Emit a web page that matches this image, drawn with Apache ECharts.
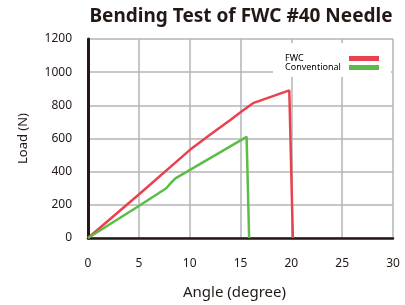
<!DOCTYPE html>
<html>
<head>
<meta charset="utf-8">
<script src="https://cdn.jsdelivr.net/npm/echarts@6/dist/echarts.min.js"></script>
<style>
  html, body { margin: 0; padding: 0; background: #fff; }
  #chart { width: 405px; height: 305px; }
</style>
</head>
<body>
<div id="chart"></div>
<script>
// [angle, load]
const seriesNames = ['FWC', 'Conventional'];
const fwcData = [[0, 0], [5, 262], [10, 530], [12, 622], [14, 712], [15.3, 772], [16.3, 815], [19.8, 890], [20.15, 0]];
const convData = [[0, 0], [5, 193], [7.7, 300], [8.2, 335], [8.6, 360], [15.6, 610], [15.85, 0]];
const colors = ['#e9424f', '#5bbd48'];

const chart = echarts.init(document.getElementById('chart'), null, { renderer: 'canvas' });

const option = {
  backgroundColor: '#fff',
  animation: false,
  title: {
    text: 'Bending Test of FWC #40 Needle',
    left: 236,
    top: 2,
    textAlign: 'center',
    textStyle: { fontFamily: 'Noto Sans', fontWeight: 'bold', fontSize: 19, color: '#231815' }
  },
  legend: {
    data: seriesNames,
    orient: 'vertical',
    right: 14,
    top: 43,
    align: 'right',
    itemWidth: 30,
    itemHeight: 5,
    itemGap: 0,
    padding: [11, 12, 5, 12],
    backgroundColor: '#fff',
    icon: 'rect',
    formatter: '{a|{name}}',
    textStyle: {
      fontFamily: 'Noto Sans', fontSize: 9, color: '#000',
      rich: { a: { width: 59, align: 'left', fontFamily: 'Noto Sans', fontSize: 9, color: '#000' } }
    }
  },
  grid: { left: 88, right: 12, top: 39, bottom: 66 },
  xAxis: {
    type: 'value',
    min: 0, max: 30, interval: 5,
    name: 'Angle (degree)',
    nameLocation: 'middle',
    nameGap: 47,
    nameTextStyle: { fontFamily: 'Noto Sans', fontSize: 15, color: '#231815', padding: [0, 12, 0, 0] },
    axisLine: { show: true, lineStyle: { color: '#231815', width: 2.5 } },
    axisTick: { show: false },
    axisLabel: { margin: 20, fontFamily: 'Noto Sans', fontSize: 12, color: '#231815' },
    splitLine: { show: true, lineStyle: { color: '#b5b5b8', width: 1.5 } }
  },
  yAxis: {
    type: 'value',
    min: 0, max: 1200, interval: 200,
    name: 'Load (N)',
    nameLocation: 'middle',
    nameGap: 58,
    nameTextStyle: { fontFamily: 'Noto Sans', fontSize: 13, color: '#231815' },
    axisLine: { show: true, lineStyle: { color: '#231815', width: 3 } },
    axisTick: { show: false },
    axisLabel: { margin: 16, fontFamily: 'Noto Sans', fontSize: 12, color: '#231815', formatter: v => String(v) },
    splitLine: { show: true, lineStyle: { color: '#b5b5b8', width: 1.5 } }
  },
  series: [
    {
      name: seriesNames[0],
      type: 'line',
      data: fwcData,
      showSymbol: false,
      color: colors[0],
      lineStyle: { width: 2.5 },
      z: 3
    },
    {
      name: seriesNames[1],
      type: 'line',
      data: convData,
      showSymbol: false,
      color: colors[1],
      lineStyle: { width: 2.5 },
      z: 3
    }
  ]
};

chart.setOption(option);
</script>
</body>
</html>
